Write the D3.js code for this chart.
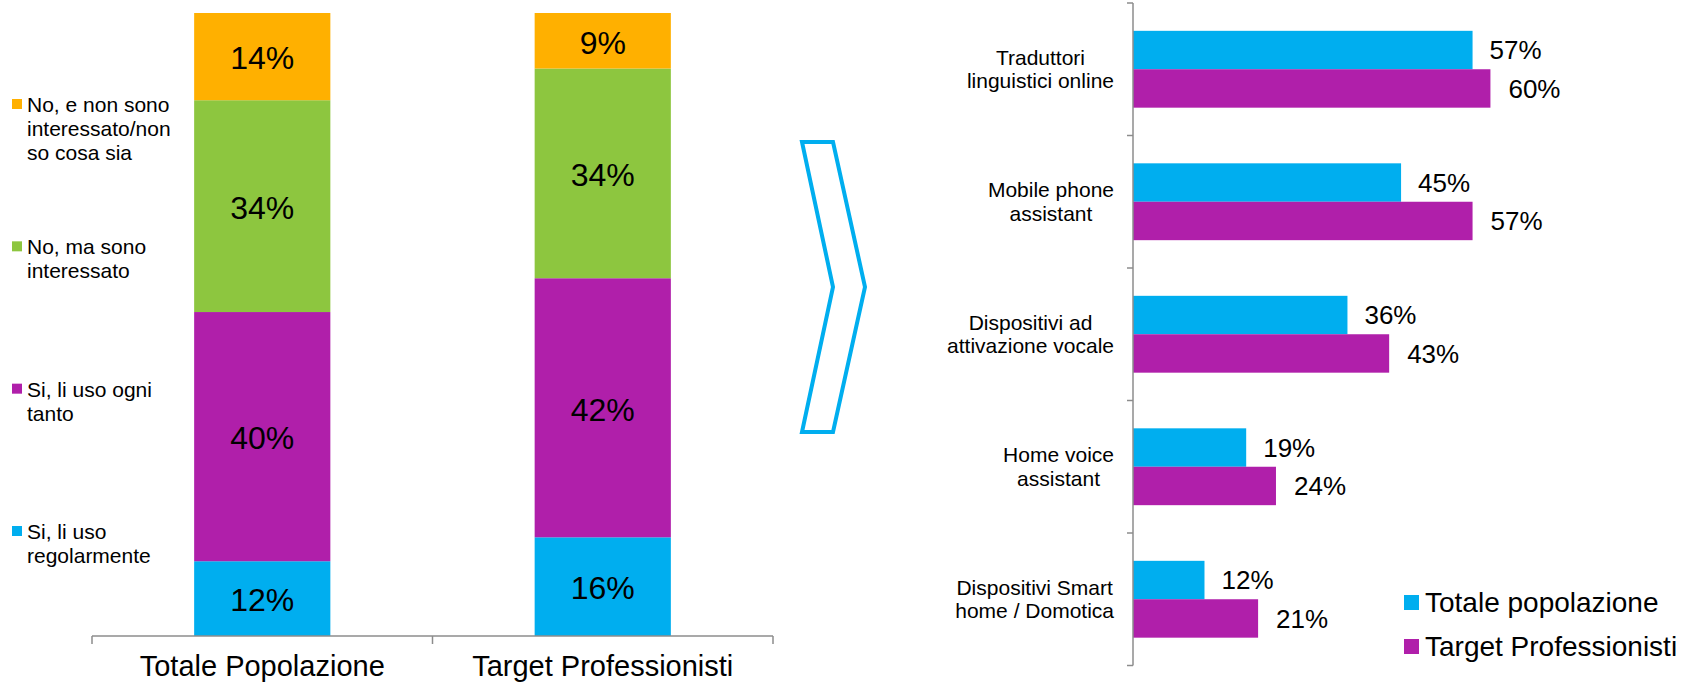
<!DOCTYPE html>
<html>
<head>
<meta charset="utf-8">
<script src="https://cdn.jsdelivr.net/npm/d3@7"></script>
<style>
  html, body { margin: 0; padding: 0; background: #fff; }
  svg { display: block; font-family: "Liberation Sans", Arial, sans-serif; }
</style>
</head>
<body>
<svg id="chart" width="1683" height="684"></svg>
<script>
// ---------- DATA ----------
// Left stacked chart
const stackCategories = ["Totale Popolazione", "Target Professionisti"];
const stackSeries = ["Si, li uso regolarmente", "Si, li uso ogni tanto", "No, ma sono interessato", "No, e non sono interessato/non so cosa sia"];
const stackLegendLines = [
  ["Si, li uso", "regolarmente"],
  ["Si, li uso ogni", "tanto"],
  ["No, ma sono", "interessato"],
  ["No, e non sono", "interessato/non", "so cosa sia"]
];
const regolarmente = [12, 16];
const ogniTanto = [40, 42];
const interessato = [34, 34];
const nonInteressato = [14, 9];
const stackColors = ["#00aeef", "#b01faa", "#8dc63f", "#ffb000"];

// Right grouped bar chart
const devices = ["Traduttori linguistici online", "Mobile phone assistant", "Dispositivi ad attivazione vocale", "Home voice assistant", "Dispositivi Smart home / Domotica"];
const deviceLines = [
  ["Traduttori", "linguistici online"],
  ["Mobile phone", "assistant"],
  ["Dispositivi ad", "attivazione vocale"],
  ["Home voice", "assistant"],
  ["Dispositivi Smart", "home / Domotica"]
];
const groupSeries = ["Totale popolazione", "Target Professionisti"];
const totalePopolazione = [57, 45, 36, 19, 12];
const targetProfessionisti = [60, 57, 43, 24, 21];
const groupColors = ["#00aeef", "#b01faa"];

// ---------- DRAW ----------
const svg = d3.select("#chart");
const axisColor = "#8c8c8c";

// ===== Left stacked chart =====
const stackValues = [regolarmente, ogniTanto, interessato, nonInteressato];
const rows = stackCategories.map((c, i) => {
  const row = { cat: c };
  const tot = d3.sum(stackValues, s => s[i]);
  stackSeries.forEach((s, k) => { row[s] = stackValues[k][i] / tot; row[s + "_raw"] = stackValues[k][i]; });
  return row;
});
const stacked = d3.stack().keys(stackSeries)(rows);

const xL = d3.scaleBand().domain(stackCategories).range([92, 773]).paddingInner(0.6).paddingOuter(0.3);
const yL = d3.scaleLinear().domain([0, 1]).range([636, 13]);

const gL = svg.append("g");
stacked.forEach((layer, k) => {
  gL.selectAll(null).data(layer).join("rect")
    .attr("x", d => xL(d.data.cat))
    .attr("width", xL.bandwidth())
    .attr("y", d => yL(d[1]))
    .attr("height", d => yL(d[0]) - yL(d[1]))
    .attr("fill", stackColors[k]);
  gL.selectAll(null).data(layer).join("text")
    .attr("x", d => xL(d.data.cat) + xL.bandwidth() / 2)
    .attr("y", d => (yL(d[0]) + yL(d[1])) / 2)
    .attr("dy", "0.4em")
    .attr("text-anchor", "middle")
    .attr("font-size", 32)
    .attr("fill", "#000")
    .text(d => d.data[layer.key + "_raw"] + "%");
});

// left axis line with category boundary ticks
const boundaries = d3.range(stackCategories.length + 1).map(i => 92 + i * (773 - 92) / stackCategories.length);
gL.append("line").attr("x1", boundaries[0]).attr("x2", boundaries[boundaries.length - 1])
  .attr("y1", yL(0)).attr("y2", yL(0)).attr("stroke", axisColor).attr("stroke-width", 1.5);
gL.selectAll(null).data(boundaries).join("line")
  .attr("x1", d => d).attr("x2", d => d)
  .attr("y1", yL(0)).attr("y2", yL(0) + 8)
  .attr("stroke", axisColor).attr("stroke-width", 1.5);
gL.selectAll(null).data(stackCategories).join("text")
  .attr("x", d => xL(d) + xL.bandwidth() / 2)
  .attr("y", 676)
  .attr("text-anchor", "middle")
  .attr("font-size", 29)
  .attr("fill", "#000")
  .text(d => d);

// left legend (top-to-bottom: reverse order)
const legendY = d3.scalePoint().domain([3, 2, 1, 0]).range([112, 539]);
[3, 2, 1, 0].forEach(k => {
  const by = legendY(k);
  gL.append("rect").attr("x", 12).attr("y", by - 13).attr("width", 10).attr("height", 10).attr("fill", stackColors[k]);
  const t = gL.append("text").attr("x", 27).attr("y", by).attr("font-size", 21).attr("fill", "#000");
  stackLegendLines[k].forEach((ln, j) => {
    t.append("tspan").attr("x", 27).attr("y", by + j * 24).text(ln);
  });
});

// ===== Chevron arrow =====
const chevron = [[802, 142], [833, 142], [865, 287], [833, 432], [802, 432], [833, 287]];
svg.append("path")
  .attr("d", d3.line()(chevron) + "Z")
  .attr("fill", "none")
  .attr("stroke", "#00aeef")
  .attr("stroke-width", 4)
  .attr("stroke-linejoin", "miter");

// ===== Right grouped bar chart =====
const gR = svg.append("g");
const x0R = 1133;
const xR = d3.scaleLinear().domain([0, 70]).range([x0R, x0R + 417]);
const yOuter = d3.scaleBand().domain(devices).range([3, 665.5]).padding(0);
const yR = d3.scaleBand().domain(devices).range([3, 665.5]).paddingInner(0.42).paddingOuter(0.21);
const ySub = d3.scaleBand().domain(groupSeries).range([0, yR.bandwidth()]);
const groupValues = [totalePopolazione, targetProfessionisti];
const labelGap = [17, 18];

groupSeries.forEach((s, k) => {
  const data = devices.map((d, i) => ({ dev: d, v: groupValues[k][i] }));
  gR.selectAll(null).data(data).join("rect")
    .attr("x", xR(0))
    .attr("y", d => yR(d.dev) + ySub(s))
    .attr("width", d => xR(d.v) - xR(0))
    .attr("height", ySub.bandwidth())
    .attr("fill", groupColors[k]);
  gR.selectAll(null).data(data).join("text")
    .attr("x", d => xR(d.v) + labelGap[k])
    .attr("y", d => yR(d.dev) + ySub(s) + ySub.bandwidth() / 2)
    .attr("dy", "0.36em")
    .attr("font-size", 26)
    .attr("fill", "#000")
    .text(d => d.v + "%");
});

// vertical axis with boundary ticks
const tickYs = devices.map(d => yOuter(d)).concat([yOuter(devices[devices.length - 1]) + yOuter.bandwidth()]);
gR.append("line").attr("x1", x0R).attr("x2", x0R).attr("y1", tickYs[0]).attr("y2", tickYs[tickYs.length - 1])
  .attr("stroke", axisColor).attr("stroke-width", 1.5);
gR.selectAll(null).data(tickYs).join("line")
  .attr("x1", x0R - 6).attr("x2", x0R)
  .attr("y1", d => d).attr("y2", d => d)
  .attr("stroke", axisColor).attr("stroke-width", 1.5);

// category labels: block right-aligned, lines centred within block
const labelRight = 1114;
devices.forEach((d, i) => {
  const cy = yOuter(d) + yOuter.bandwidth() / 2;
  const lines = deviceLines[i];
  const t = gR.append("text").attr("text-anchor", "middle").attr("font-size", 21).attr("fill", "#000");
  const spans = lines.map((ln, j) => t.append("tspan")
      .attr("y", cy + (j - (lines.length - 1) / 2) * 23.5 + 7)
      .text(ln));
  const maxW = d3.max(spans, sp => sp.node().getComputedTextLength());
  spans.forEach(sp => sp.attr("x", labelRight - maxW / 2));
});

// right legend
const legR = d3.scalePoint().domain(groupSeries).range([611.5, 655.5]);
groupSeries.forEach((s, k) => {
  const by = legR(s);
  gR.append("rect").attr("x", 1404).attr("y", by - 16.5).attr("width", 15).attr("height", 15).attr("fill", groupColors[k]);
  gR.append("text").attr("x", 1425).attr("y", by).attr("font-size", 28).attr("fill", "#000").text(s);
});
</script>
</body>
</html>
